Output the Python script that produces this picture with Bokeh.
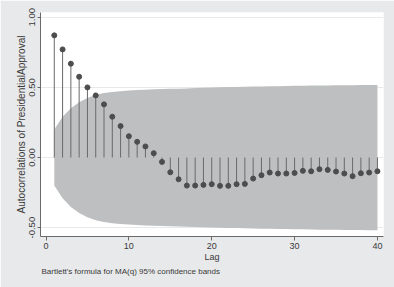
from bokeh.plotting import figure
from bokeh.models import ColumnDataSource, Range1d, FixedTicker, Title
from bokeh.embed import file_html
from bokeh.resources import INLINE

# ---- data ----
lags = list(range(1, 41))
acf = [0.871, 0.771, 0.669, 0.576, 0.500, 0.443, 0.379, 0.291, 0.224, 0.152,
       0.112, 0.079, 0.031, -0.031, -0.105, -0.155, -0.200, -0.200, -0.195, -0.190,
       -0.202, -0.202, -0.190, -0.188, -0.150, -0.126, -0.107, -0.114, -0.114, -0.110,
       -0.095, -0.098, -0.083, -0.088, -0.100, -0.114, -0.133, -0.112, -0.107, -0.098]
band = [0.200, 0.290, 0.352, 0.395, 0.425, 0.447, 0.460, 0.468, 0.473, 0.478,
        0.481, 0.484, 0.486, 0.488, 0.490, 0.491, 0.493, 0.495, 0.497, 0.499,
        0.501, 0.502, 0.503, 0.505, 0.506, 0.507, 0.508, 0.509, 0.510, 0.511,
        0.512, 0.513, 0.514, 0.514, 0.515, 0.516, 0.516, 0.517, 0.518, 0.518]
x_ticks = [0, 10, 20, 30, 40]
y_ticks = [-0.5, 0.0, 0.5, 1.0]
y_tick_labels = ["-0.50", "0.00", "0.50", "1.00"]
x_title = "Lag"
y_title = "Autocorrelations of PresidentialApproval"
note = "Bartlett's formula for MA(q) 95% confidence bands"

src = ColumnDataSource(dict(
    lag=lags, acf=acf,
    hi=band, lo=[-b for b in band],
))

FONT = "Liberation Sans"
BG = "#e8e9ea"
TXT = "#3a3a3a"

p = figure(width=394, height=287, output_backend="svg", toolbar_location=None,
           x_range=Range1d(-0.665, 40.73), y_range=Range1d(-0.563, 1.034),
           min_border_left=40, min_border_right=11, min_border_top=12,
           min_border_bottom=51,
           background_fill_color="white", border_fill_color=BG,
           outline_line_color=None)
p.styles = {"outline": "2px solid #b0b0b0", "outline-offset": "-3px"}

p.varea(x="lag", y1="lo", y2="hi", source=src, fill_color="#bebfc0")
p.segment(x0="lag", y0=0, x1="lag", y1="acf", source=src,
          line_color="#6a6a6a", line_width=1)
p.scatter(x="lag", y="acf", source=src, size=5,
          fill_color="#4d4d4d", line_color="#4d4d4d")

# grid
p.xgrid.visible = False
p.ygrid.ticker = FixedTicker(ticks=y_ticks)
p.ygrid.grid_line_color = "#e6eaec"
p.ygrid.grid_line_width = 1

# x axis
xa = p.xaxis[0]
xa.ticker = FixedTicker(ticks=x_ticks)
xa.axis_label = x_title
xa.axis_label_text_font = FONT
xa.axis_label_text_font_size = "9px"
xa.axis_label_text_font_style = "normal"
xa.axis_label_text_color = TXT
xa.axis_label_standoff = 0
xa.major_label_text_font = FONT
xa.major_label_text_font_size = "9px"
xa.major_label_text_color = TXT
xa.major_label_standoff = 2
xa.major_tick_out = 4
xa.major_tick_in = 0
xa.minor_tick_out = 0
xa.minor_tick_in = 0
xa.axis_line_color = "#6a6a6a"
xa.major_tick_line_color = "#6a6a6a"

# y axis
ya = p.yaxis[0]
ya.ticker = FixedTicker(ticks=y_ticks)
ya.major_label_overrides = {t: l for t, l in zip(y_ticks, y_tick_labels)}
ya.major_label_orientation = "vertical"
ya.axis_label = y_title
ya.axis_label_text_font = FONT
ya.axis_label_text_font_size = "10px"
ya.axis_label_text_font_style = "normal"
ya.axis_label_text_color = TXT
ya.axis_label_standoff = 0
ya.major_label_text_font = FONT
ya.major_label_text_font_size = "9.5px"
ya.major_label_text_color = TXT
ya.major_label_standoff = 2
ya.major_tick_out = 3
ya.major_tick_in = 0
ya.minor_tick_out = 0
ya.minor_tick_in = 0
ya.axis_line_color = "#6a6a6a"
ya.major_tick_line_color = "#6a6a6a"

p.add_layout(Title(text=note, align="left", offset=1,
                   text_font=FONT, text_font_size="8px",
                   text_font_style="normal", text_color=TXT,
                   standoff=0), "below")

open("out.html", "w").write(file_html(p, INLINE))
